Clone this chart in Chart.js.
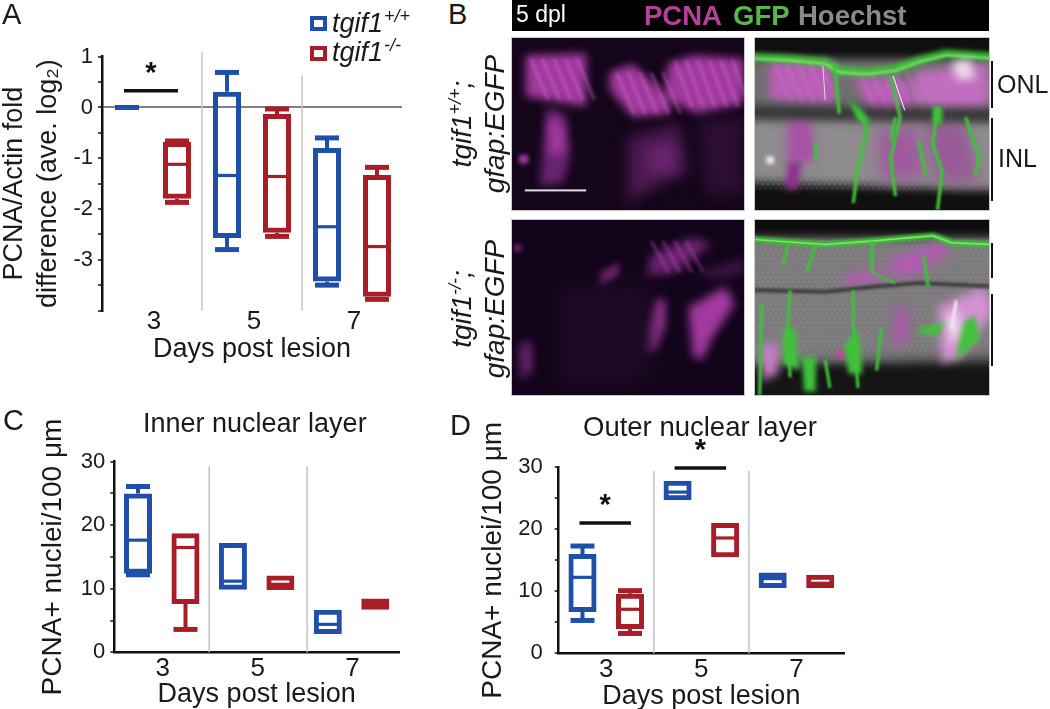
<!DOCTYPE html>
<html><head><meta charset="utf-8">
<script src="https://cdn.jsdelivr.net/npm/chart.js@4/dist/chart.umd.min.js"></script>
<style>
html,body{margin:0;padding:0;background:#fff}
#page{position:relative;width:1050px;height:709px;overflow:hidden;font-family:"Liberation Sans",Arial,sans-serif;color:#1a1a1a}
canvas{position:absolute}
.t{position:absolute;white-space:nowrap;line-height:1}
.lt{font-size:27px;font-style:italic}
.lt sup{font-size:18px;line-height:0;vertical-align:10px;margin-left:1px}
.ic{position:absolute;width:9px;height:7px;border:4.5px solid;box-sizing:content-box}
.rot{position:absolute;transform:rotate(-90deg);transform-origin:center;white-space:nowrap;font-style:italic;font-size:28px;line-height:1;text-align:center}
.rot sup{font-size:18px;line-height:0;vertical-align:10px}
.v{position:absolute;width:2px;background:#111}
</style></head><body>
<div id="page">
<canvas id="micro" width="500" height="400" style="left:500px;top:0"></canvas>
<canvas id="chartA" width="440" height="370" style="left:0;top:0"></canvas>
<canvas id="chartC" width="440" height="309" style="left:0;top:400px"></canvas>
<canvas id="chartD" width="420" height="309" style="left:440px;top:400px"></canvas>

<div class="t" style="left:2px;top:0;font-size:29px">A</div>
<div class="t" style="left:448px;top:0;font-size:29px">B</div>
<div class="t" style="left:3px;top:406px;font-size:29px">C</div>
<div class="t" style="left:450px;top:411px;font-size:29px">D</div>

<div class="ic" style="left:310px;top:16px;border-color:#1f4fa8"></div>
<div class="t lt" style="left:332px;top:10px">tgif1<sup>+/+</sup></div>
<div class="ic" style="left:310px;top:46px;border-color:#a81e28"></div>
<div class="t lt" style="left:332px;top:39px">tgif1<sup>-/-</sup></div>

<div class="t" style="left:143px;top:410px;font-size:27px">Inner nuclear layer</div>
<div class="t" style="left:583px;top:413px;font-size:27.5px">Outer nuclear layer</div>

<div class="t" style="left:516px;top:3px;font-size:23px;color:#fff">5 dpl</div>
<div class="t" style="left:644px;top:2px;font-size:27.5px;font-weight:bold;color:#b8409c">PCNA</div>
<div class="t" style="left:733px;top:2px;font-size:27.5px;font-weight:bold;color:#56b848">GFP</div>
<div class="t" style="left:798px;top:2px;font-size:27.5px;font-weight:bold;color:#8a8a8a">Hoechst</div>

<div class="rot" style="left:392px;top:110px;width:140px">tgif1<sup>+/+</sup>;</div>
<div class="rot" style="left:425px;top:110px;width:140px">gfap:EGFP</div>
<div class="rot" style="left:392px;top:295px;width:140px">tgif1<sup>-/-</sup>;</div>
<div class="rot" style="left:425px;top:295px;width:140px">gfap:EGFP</div>

<div class="t" style="left:997px;top:72px;font-size:25px">ONL</div>
<div class="t" style="left:998px;top:146px;font-size:25px">INL</div>
<div class="v" style="left:991px;top:61px;height:47px"></div>
<div class="v" style="left:991px;top:118px;height:83px"></div>
<div class="v" style="left:991px;top:243px;height:35px"></div>
<div class="v" style="left:991px;top:294px;height:72px"></div>
</div>
<script>
// ---- data ----
const days = ['3','5','7'];
const seriesNames = ['tgif1+/+','tgif1-/-'];

const aBlueMin = [0,-2.8,-3.5];
const aBlueQ1  = [0,-2.57,-3.43];
const aBlueMed = [0,-1.34,-2.35];
const aBlueQ3  = [0,0.31,-0.8];
const aBlueMax = [0,0.69,-0.6];
const aRedMin  = [-1.87,-2.54,-3.78];
const aRedQ1   = [-1.8,-2.47,-3.73];
const aRedMed  = [-1.12,-1.36,-2.74];
const aRedQ3   = [-0.68,-0.13,-1.33];
const aRedMax  = [-0.66,-0.03,-1.18];

const cBlueMin = [12.2,9.85,2.9];
const cBlueQ1  = [12.35,9.85,2.9];
const cBlueMed = [17.65,11.2,4.4];
const cBlueQ3  = [25,17.2,6.7];
const cBlueMax = [26.1,17.2,6.7];
const cRedMin  = [3.6,9.8,6.7];
const cRedQ1   = [7.6,9.8,6.7];
const cRedMed  = [16.5,10.7,7.6];
const cRedQ3   = [18.75,12.1,8.45];
const cRedMax  = [18.75,12.1,8.45];

const dBlueMin = [5.3,24.7,10.55];
const dBlueQ1  = [6.67,24.7,10.55];
const dBlueMed = [12.25,26,12.05];
const dBlueQ3  = [16,27.85,13.05];
const dBlueMax = [17.3,27.85,13.05];
const dRedMin  = [3.2,15.5,10.55];
const dRedQ1   = [3.9,15.5,10.55];
const dRedMed  = [7.1,18.6,11.3];
const dRedQ3   = [9.6,21,12.65];
const dRedMax  = [10.1,21,12.65];

const aSig = [[0,0.33]];
const dSig = [[0,21],[1,29.9]];

const BLUE='#1f4fa8', RED='#a81e28', INK='#111111', TXT='#1a1a1a';

const boxPlugin = {
  id:'boxes',
  afterDatasetsDraw(chart){
    const c=chart.ctx, y=chart.scales.y, x=chart.scales.x, o=chart.options.plugins.boxes;
    c.save(); c.lineCap='butt';
    c.strokeStyle='#c4c4c4'; c.lineWidth=1.5;
    o.seps.forEach(s=>{
      const px=(x.getPixelForValue(s.i)+x.getPixelForValue(s.i+1))/2+(s.dx||0);
      c.beginPath(); c.moveTo(px,y.getPixelForValue(s.top)); c.lineTo(px,y.bottom); c.stroke();
    });
    chart.data.datasets.forEach((ds,di)=>{
      const m=chart.getDatasetMeta(di), col=ds.borderColor;
      c.strokeStyle=col;
      m.data.forEach((el,i)=>{
        const q1=ds.data[i][0], q3=ds.data[i][1], mn=ds.lo[i], mx=ds.hi[i], md=ds.med[i];
        const px=el.x;
        const seg=(a,b)=>{c.lineWidth=4;c.beginPath();c.moveTo(px,y.getPixelForValue(a));c.lineTo(px,y.getPixelForValue(b));c.stroke();};
        const cap=v=>{c.lineWidth=5;c.beginPath();c.moveTo(px-12,y.getPixelForValue(v));c.lineTo(px+12,y.getPixelForValue(v));c.stroke();};
        if(mx>q3){seg(q3,mx);cap(mx);}
        if(mn<q1){seg(q1,mn);cap(mn);}
        if(q1===q3){cap(q1);return;}
        c.lineWidth=3.2; c.beginPath(); c.moveTo(px-13,y.getPixelForValue(md)); c.lineTo(px+13,y.getPixelForValue(md)); c.stroke();
      });
    });
    c.fillStyle=INK; c.strokeStyle=INK; c.textAlign='center'; c.textBaseline='middle';
    (o.sig||[]).forEach(s=>{
      const m0=chart.getDatasetMeta(0).data[s[0]], m1=chart.getDatasetMeta(1).data[s[0]];
      const py=y.getPixelForValue(s[1]);
      c.lineWidth=3.5; c.beginPath(); c.moveTo(m0.x-3,py); c.lineTo(m1.x+1,py); c.stroke();
      c.font='bold 29px "Liberation Sans"';
      c.fillText('*',(m0.x+m1.x)/2-1,py-17);
    });
    c.restore();
  }
};

function makeBox(id,cfg){
  const W=document.getElementById(id).width, H=document.getElementById(id).height;
  const mk=(name,col,mn,q1,md,q3,mx)=>({label:name,data:q1.map((v,i)=>[v,q3[i]]),lo:mn,hi:mx,med:md,
    borderColor:col,backgroundColor:'rgba(255,255,255,0)',borderWidth:5,borderSkipped:false,inflateAmount:0,
    barPercentage:cfg.bar,categoryPercentage:1});
  return new Chart(document.getElementById(id),{
    type:'bar',
    data:{labels:days,datasets:[mk(seriesNames[0],BLUE,...cfg.blue),mk(seriesNames[1],RED,...cfg.red)]},
    plugins:[boxPlugin],
    options:{
      responsive:false,animation:false,
      layout:{autoPadding:false,padding:{left:0,top:cfg.top,right:W-cfg.right,bottom:0}},
      plugins:{legend:{display:false},tooltip:{enabled:false},title:{display:false},
        boxes:{seps:cfg.seps,sig:cfg.sig}},
      scales:{
        x:{offset:true,
          afterFit(s){s.height=H-cfg.bottom;},
          grid:{display:false,drawTicks:false},
          border:{display:cfg.xline,color:INK,width:2.5},
          ticks:{color:TXT,font:{family:'Liberation Sans',size:26},padding:cfg.xpad,labelOffset:cfg.xoff,maxRotation:0},
          title:{display:true,text:'Days post lesion',color:TXT,font:{family:'Liberation Sans',size:27},padding:{top:0,bottom:cfg.xtb}}
        },
        y:{min:cfg.min,max:cfg.max,
          afterFit(s){s.width=cfg.left;},
          grid:{drawOnChartArea:true,drawTicks:true,tickLength:4,tickWidth:1.5,tickColor:INK,
            color:c=>(cfg.zero&&c.tick&&c.tick.value===0)?'#808080':'rgba(0,0,0,0)',lineWidth:2},
          border:{display:true,color:INK,width:2.5},
          ticks:{stepSize:cfg.step,autoSkip:false,color:TXT,font:{family:'Liberation Sans',size:22},padding:cfg.ypad,
            callback:v=>(Math.abs(v%cfg.major)<1e-9&&v!==cfg.noLabel)?String(v):''},
          title:{display:true,text:cfg.ytitle,color:TXT,font:{family:'Liberation Sans',size:cfg.ysize,lineHeight:1.25},padding:{top:cfg.ytp,bottom:0}}
        }
      }
    }
  });
}

makeBox('chartA',{left:102,right:402,top:56.7,bottom:310.5,bar:0.56,min:-4,max:1,step:0.5,major:1,noLabel:-4,zero:true,xline:false,xpad:-4,xoff:2,xtb:4,ypad:5,
  ytitle:['PCNA/Actin fold','difference (ave. log₂)'],ysize:27,ytp:-2,
  blue:[aBlueMin,aBlueQ1,aBlueMed,aBlueQ3,aBlueMax],red:[aRedMin,aRedQ1,aRedMed,aRedQ3,aRedMax],
  seps:[{i:0,top:1.09},{i:1,top:0.63}],sig:aSig});
makeBox('chartC',{left:114.3,right:399,top:61.7,bottom:252.3,bar:0.59,min:0,max:30,step:5,major:10,zero:false,xline:true,xpad:1,xoff:1,xtb:-2,ypad:5,
  ytitle:'PCNA+ nuclei/100 μm',ysize:28,ytp:36,
  blue:[cBlueMin,cBlueQ1,cBlueMed,cBlueQ3,cBlueMax],red:[cRedMin,cRedQ1,cRedMed,cRedQ3,cRedMax],
  seps:[{i:0,top:29.3},{i:1,top:29.3,dx:3}],sig:[]});
makeBox('chartD',{left:118.7,right:404,top:67.3,bottom:253.3,bar:0.59,min:0,max:30,step:5,major:10,zero:false,xline:true,xpad:1,xoff:0,xtb:-4,ypad:12,
  ytitle:'PCNA+ nuclei/100 μm',ysize:28,ytp:36,
  blue:[dBlueMin,dBlueQ1,dBlueMed,dBlueQ3,dBlueMax],red:[dRedMin,dRedQ1,dRedMed,dRedQ3,dRedMax],
  seps:[{i:0,top:29.4},{i:1,top:29.4}],sig:dSig});

// ---- panel B: painted approximation of the micrographs ----
(function(){
  const g=document.getElementById('micro').getContext('2d');
  const OX=500;
  g.fillStyle='#000'; g.fillRect(512-OX,0,477,31);
  const panels={ul:[512,38,232,172],ur:[755,38,234,172],ll:[512,220,232,175],lr:[755,220,234,175]};
  function within(p,fn,bg){
    const [x,y,w,h]=panels[p];
    g.save(); g.beginPath(); g.rect(x-OX,y,w,h); g.clip();
    g.fillStyle=bg; g.fillRect(x-OX,y,w,h);
    g.translate(x-OX,y); g.scale(w/100,h/100);
    fn(); g.restore();
    g.save(); g.strokeStyle='#c8c8c8'; g.lineWidth=1; g.strokeRect(x-OX-.5,y-.5,w+1,h+1); g.restore();
  }
  function poly(pts,col,blur){
    g.filter='blur('+(blur||5)+'px)'; g.fillStyle=col; g.beginPath();
    pts.forEach((p,i)=>i?g.lineTo(p[0],p[1]):g.moveTo(p[0],p[1])); g.closePath(); g.fill(); g.filter='none';
  }
  function line(pts,col,w,blur){
    g.filter='blur('+(blur||0.8)+'px)'; g.strokeStyle=col; g.lineWidth=w; g.lineJoin='round'; g.beginPath();
    pts.forEach((p,i)=>i?g.lineTo(p[0],p[1]):g.moveTo(p[0],p[1])); g.stroke(); g.filter='none';
  }
  function streaks(x0,x1,y0,y1,col,dx){
    for(let x=x0;x<x1;x+=dx) line([[x,y0],[x+dx*1.5,y1]],col,1.3,1.6);
  }
  function cells(x0,x1,y0,y1,col){
    g.fillStyle=col;
    for(let yy=y0,r=0;yy<y1;yy+=2.6,r++) for(let xx=x0+(r%2)*1.1;xx<x1;xx+=2.2){
      g.beginPath(); g.ellipse(xx,yy,.6,.8,0,0,6.3); g.fill();
    }
  }
  const M='#a2399f', MD='#6a2470', ML='rgba(205,110,200,.45)', G='#3fc23a', GL='#7ee866';

  within('ul',()=>{
    poly([[6,10],[32,9],[32,40],[6,34]],M,4);
    poly([[42,20],[52,15],[68,35],[68,44],[52,46],[42,30]],M,4);
    poly([[67,15],[78,10],[100,12],[100,38],[80,44],[66,35]],M,4);
    streaks(8,30,12,36,ML,5); streaks(45,66,20,44,ML,5); streaks(70,98,13,40,ML,5);
    poly([[15,40],[23,44],[25,70],[22,84],[12,86]],MD,5);
    poly([[16,46],[22,50],[23,66],[16,68]],M,5);
    poly([[50,58],[72,50],[76,78],[62,86],[50,96]],'#4c1a52',7);
    poly([[58,64],[70,62],[70,78],[60,78]],MD,6);
    poly([[80,48],[100,46],[100,90],[84,92]],'#2c0e33',7);
    poly([[3,68],[7,68],[7,73],[3,73]],M,2);
    g.fillStyle='#d9d9d9'; g.fillRect(5.5,88,26.5,1.2);
  },'#14051a');
  within('ur',()=>{
    poly([[-5,12],[105,12],[105,46],[-5,46]],'#6f6f6f',4);
    poly([[-5,44],[105,44],[105,90],[-5,84]],'#8d8a8d',6);
    cells(0,100,46,88,'rgba(170,170,170,.22)');
    poly([[-5,88],[105,91],[105,110],[-5,110]],'#101010',6);
    poly([[6,14],[34,14],[34,40],[6,36]],'#b85fb6',5);
    poly([[42,22],[68,25],[68,44],[50,46]],'#b85fb6',5);
    poly([[68,20],[100,14],[100,40],[80,44],[68,38]],'#c06ebe',5);
    streaks(8,30,14,38,ML,5); streaks(45,95,20,44,ML,5);
    poly([[14,48],[24,48],[26,72],[14,72]],'#a94fa8',5);
    poly([[14,72],[20,72],[18,88],[13,88]],'#902f8f',3);
    poly([[52,55],[68,50],[74,80],[54,84]],'#a05a9f',7);
    poly([[72,48],[90,50],[96,84],[78,84]],'#975a96',7);
    poly([[-5,39],[105,41],[105,49],[-5,47]],'#333333',5);
    line([[-2,11],[14,12],[30,14],[36,19],[48,20],[60,18],[70,13],[82,9],[102,11]],G,4.5,2.5);
    line([[-2,12],[14,13],[30,15],[36,20],[48,21],[60,19],[70,14],[82,10],[102,12]],GL,1.2,.8);
    [[[34,15],[36,44]],[[58,22],[62,46],[58,70],[60,92]],[[44,44],[48,52],[44,75],[42,96]],[[78,40],[76,62],[80,78],[78,100]],[[26,60],[26,72]],[[60,46],[58,60]],[[90,46],[96,70],[94,80]],[[70,60],[73,80]]]
      .forEach(l=>line(l,G,1.5,1.1));
    poly([[40,36],[46,42],[50,50],[44,48]],G,2);
    poly([[76,40],[80,40],[80,50],[76,50]],G,2);
    line([[59,22],[64,42]],'#eee',.5,.6);
    line([[29,16],[30,36]],'#eee',.4,.6);
    poly([[84,14],[92,12],[94,24],[86,24]],'#e9dce9',4);
    poly([[5,69],[8,69],[8,73],[5,73]],'#fff',2);
  },'#0f0f0f');
  within('ll',()=>{
    poly([[60,20],[78,10],[86,14],[70,30],[58,32]],MD,5);
    streaks(60,78,12,30,'rgba(170,70,170,.5)',5);
    poly([[38,30],[46,24],[46,32],[38,38]],MD,3);
    poly([[76,50],[92,38],[96,48],[86,68],[82,80],[78,78]],M,5);
    poly([[62,45],[66,46],[66,60],[62,74],[57,76],[58,62]],M,4);
    poly([[3,72],[8,68],[9,85],[4,92]],MD,5);
    poly([[36,74],[39,74],[39,78],[36,78]],'#b85fb6',2);
    poly([[1,14],[4,14],[4,18],[1,18]],MD,2);
    poly([[80,30],[100,22],[100,30],[88,34]],'#3c1444',5);
    poly([[20,40],[60,36],[60,90],[20,95]],'#1e0a26',10);
  },'#12041a');
  within('lr',()=>{
    poly([[-5,10],[105,10],[105,84],[-5,84]],'#7d7a7d',5);
    cells(0,100,12,84,'rgba(165,165,165,.2)');
    poly([[-5,85],[105,80],[105,110],[-5,110]],'#151515',8);
    poly([[40,30],[56,28],[56,34],[38,38]],'#b05cb0',4);
    poly([[58,22],[80,12],[84,18],[68,32],[58,32]],'#b05cb0',5);
    poly([[78,50],[98,38],[102,52],[88,78],[80,82]],'#d392d1',5);
    poly([[60,50],[66,50],[66,70],[58,72]],'#a65ba6',5);
    poly([[2,72],[10,70],[10,88],[3,92]],'#c47fc3',5);
    line([[-2,40],[30,41],[52,38],[70,36],[102,38]],'#333',2,1.5);
    line([[-2,11],[30,14],[50,12],[76,9],[84,13],[102,14]],G,3.4,1.8);
    line([[-2,11],[30,14],[50,12],[76,9],[84,13],[102,14]],GL,.8,.7);
    [[[14,14],[12,26]],[[26,14],[22,30]],[[50,12],[50,30],[60,36]],[[15,40],[14,62],[15,90]],[[42,40],[42,60],[44,96]],[[54,62],[52,86]],[[30,80],[32,96]],[[72,20],[74,38]],[[3,48],[2,100]]]
      .forEach(l=>line(l,G,1.4,1.1));
    poly([[12,62],[17,62],[19,86],[12,82]],G,2.5);
    poly([[20,78],[26,78],[26,98],[21,98]],G,2.5);
    poly([[38,72],[44,62],[46,88],[40,88]],G,2.5);
    poly([[88,60],[94,54],[96,68],[86,80]],G,2.5);
    poly([[70,62],[82,58],[78,66],[70,65]],G,2.5);
    line([[86,46],[84,62]],'#fff',1,.8);
    poly([[82,56],[86,50],[88,62],[84,72]],'#efe0ef',4);
    poly([[35,75],[38,75],[38,79],[35,79]],'#d0409a',2);
  },'#0c0c0c');
})();
</script>
</body></html>
